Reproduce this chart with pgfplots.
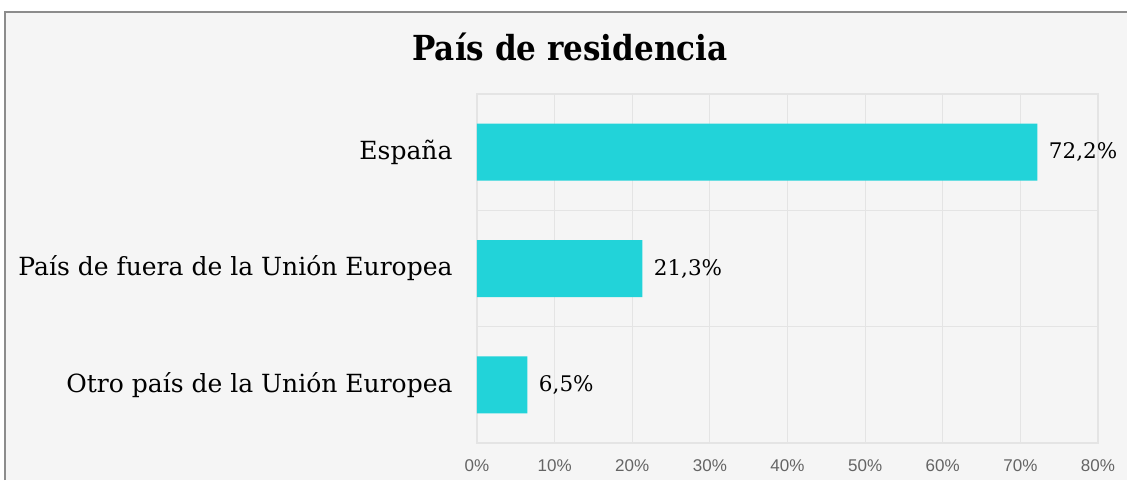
\documentclass[border=0pt]{standalone}
\usepackage{pgfplots}
\pgfplotsset{compat=1.18}
\usepackage{fontspec}
\setmainfont{DejaVu Serif}
\newfontfamily\titlefont{DejaVu Serif Condensed}
\newfontfamily\sansf{Liberation Sans}
\definecolor{barc}{RGB}{34,211,217}
\definecolor{bgc}{RGB}{245,245,245}
\definecolor{gridc}{RGB}{228,228,228}
\definecolor{tickc}{RGB}{100,100,100}
\definecolor{framec}{RGB}{140,140,140}
\begin{document}
\begin{tikzpicture}[x=1pt,y=1pt]
\useasboundingbox (0,0) rectangle (1127,480);
\fill[white] (0,0) rectangle (1127,480);
\fill[bgc] (5,0) rectangle (1127,468);
\draw[framec,line width=1.2pt] (5,0) -- (5,468) -- (1127,468);
\node[font={\titlefont\bfseries\fontsize{34.5}{40}\selectfont}] at (570,433) {País de residencia};
\begin{axis}[
  at={(477pt,37pt)}, anchor=south west,
  scale only axis, width=621pt, height=349pt,
  xmin=0, xmax=80, ymin=0.5, ymax=3.5,
  xbar, bar width=57pt,
  xtick={0,10,...,80},
  xticklabels={0\%,10\%,20\%,30\%,40\%,50\%,60\%,70\%,80\%},
  xticklabel style={font={\sansf\fontsize{17}{20}\selectfont}, text=tickc, yshift=-13pt},
  ytick={1,2,3},
  yticklabels={Otro país de la Unión Europea,País de fuera de la Unión Europea,España},
  yticklabel style={font={\fontsize{25}{30}\selectfont}, xshift=-21pt},
  minor ytick={1.5,2.5},
  xmajorgrids, yminorgrids,
  grid style={gridc, line width=1.2pt},
  minor grid style={gridc, line width=1.2pt},
  major tick length=0pt, minor tick length=0pt,
  axis line style={gridc, line width=1.2pt},
  nodes near coords={\pgfmathprintnumber[fixed,fixed zerofill,precision=1,use comma,assume math mode=true]{\pgfplotspointmeta}\%},
  nodes near coords style={font={\fontsize{21.5}{26}\selectfont}, anchor=west, xshift=8pt},
  point meta=x,
]
\addplot[fill=barc, draw=none] coordinates {(6.5,1) (21.3,2) (72.2,3)};
\end{axis}
\end{tikzpicture}
\end{document}
